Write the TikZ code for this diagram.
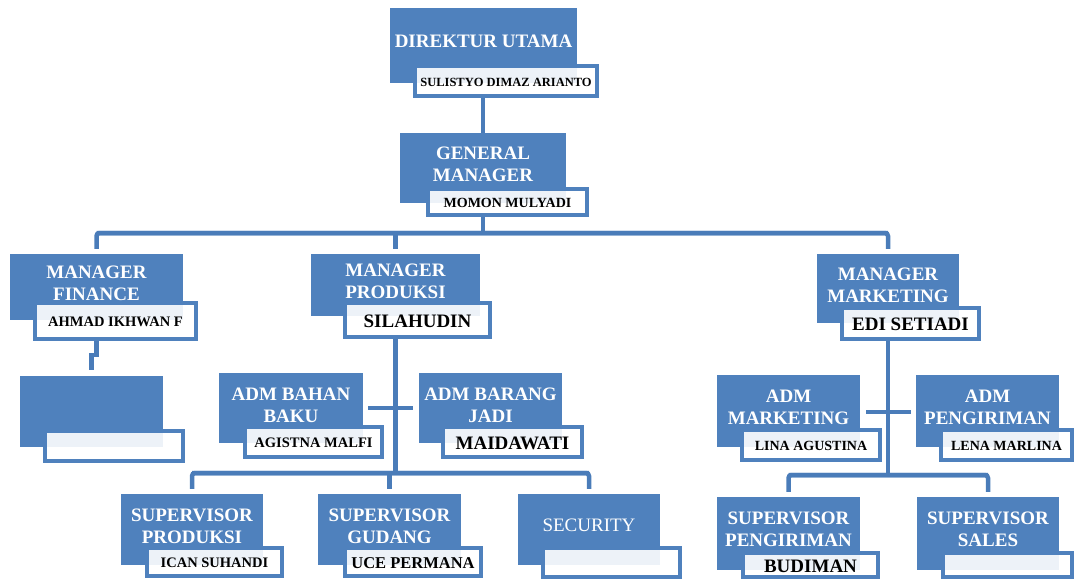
\documentclass[tikz,border=0pt]{standalone}
\usepackage{fontspec}
\setmainfont{Liberation Serif}
\usetikzlibrary{fit,calc,backgrounds}
\definecolor{boxblue}{RGB}{79,129,189}
\definecolor{lineblue}{RGB}{74,124,185}
\tikzset{
  bluebox/.style={fill=boxblue, draw=none, inner sep=0pt},
  titletext/.style={text=white, align=center, inner sep=0pt, font=\bfseries\fontsize{19}{22}\selectfont},
  namebox/.style={draw=boxblue, line width=3.5pt, fill=white, fill opacity=0.9, inner sep=0pt},
  nametext/.style={text=black, inner sep=0pt},
  conn/.style={draw=lineblue, line width=4.5pt},
  drop/.style={conn, shorten >=5pt}
}
\newcommand\orgbox[5]{%
  \node[bluebox, fit={#2 #3}] (#1) {};
  \node[titletext] (#1-t) at (#1.center |- 0,#4) {#5};}
\newcommand\orgname[5]{%
  \node[namebox, fit={#2 #3}] (#1) {};
  \node[nametext, font=\bfseries\fontsize{#4}{#4}\selectfont] (#1-n) at ([yshift=-1pt]#1.center) {#5};}
\begin{document}
\begin{tikzpicture}[x=1pt,y=-1pt]
\useasboundingbox (0,0) rectangle (1075,578);
% blue boxes
\orgbox{du}{(390,8)}{(577,83)}{41}{DIREKTUR UTAMA}
\orgbox{gm}{(400,133)}{(566,203)}{164}{GENERAL\\MANAGER}
\orgbox{mf}{(10,254)}{(183,320)}{283}{MANAGER\\FINANCE}
\node[bluebox, fit={(20,376) (163,447)}] (bf) {};
\orgbox{mp}{(311,254)}{(480,316)}{281}{MANAGER\\PRODUKSI}
\orgbox{abb}{(219,373)}{(363,443)}{405}{ADM BAHAN\\BAKU}
\orgbox{abj}{(419,373)}{(562,443)}{405}{ADM BARANG\\JADI}
\orgbox{sp}{(121,494)}{(263,565)}{526}{SUPERVISOR\\PRODUKSI}
\orgbox{sg}{(318,494)}{(461,565)}{526}{SUPERVISOR\\GUDANG}
\node[bluebox, fit={(518,494) (660,565)}] (sec) {};
\node[titletext, font=\fontsize{19}{22}\selectfont] (sec-t) at (sec.center |- 0,525) {SECURITY};
\orgbox{mm}{(817,254)}{(959,323)}{285}{MANAGER\\MARKETING}
\orgbox{am}{(717,375)}{(860,447)}{407}{ADM\\MARKETING}
\orgbox{ap}{(916,375)}{(1059,447)}{407}{ADM\\PENGIRIMAN}
\orgbox{spg}{(717,497)}{(860,570)}{529}{SUPERVISOR\\PENGIRIMAN}
\orgbox{ss}{(917,497)}{(1059,570)}{529}{SUPERVISOR\\SALES}
% name labels
\orgname{du-l}{(415,66)}{(597,96)}{12.5}{SULISTYO DIMAZ ARIANTO}
\orgname{gm-l}{(428,189)}{(587,215)}{14}{MOMON MULYADI}
\orgname{mf-l}{(35,303)}{(196,339)}{14.5}{AHMAD IKHWAN F}
\orgname{bf-l}{(45,431)}{(183,461)}{14}{}
\orgname{mp-l}{(345,303)}{(490,337)}{19}{SILAHUDIN}
\orgname{abb-l}{(245,427)}{(382,457)}{14.5}{AGISTNA MALFI}
\orgname{abj-l}{(443,427)}{(582,457)}{19}{MAIDAWATI}
\orgname{sp-l}{(147,548)}{(282,576)}{14.5}{ICAN SUHANDI}
\orgname{sg-l}{(345,548)}{(481,576)}{16.5}{UCE PERMANA}
\orgname{sec-l}{(543,548)}{(680,577)}{14}{}
\orgname{mm-l}{(842,308)}{(979,339)}{19}{EDI SETIADI}
\orgname{am-l}{(742,430)}{(880,460)}{14}{LINA AGUSTINA}
\orgname{ap-l}{(941,430)}{(1072,460)}{14}{LENA MARLINA}
\orgname{spg-l}{(743,553)}{(878,577)}{19}{BUDIMAN}
\orgname{ss-l}{(943,553)}{(1072,577)}{14}{}
% connectors
\coordinate (bus1) at (0,233);
\coordinate (bus2) at (0,473);
\coordinate (bus3) at (0,475);
\coordinate (cr1) at (0,408);
\coordinate (cr2) at (0,412);
\begin{scope}[on background layer]
\draw[conn] (gm.north |- du-l.south) -- (gm.north);
\draw[conn] (gm.north |- gm-l.south) -- (gm.north |- bus1);
\draw[drop, rounded corners=3pt] (mf.north |- bus1) -- (mm.north |- bus1) -- (mm.north);
\draw[drop, rounded corners=3pt] (mm.north |- bus1) -- (mf.north |- bus1) -- (mf.north);
\draw[drop] (mp.north |- bus1) -- (mp.north);
% finance
\draw[conn] (mf.north |- mf-l.south) -- ++(0,14) -| ($(bf.north)+(0,-6)$);
% produksi
\draw[conn] (mp.north |- mp-l.south) -- (mp.north |- bus2);
\draw[conn, shorten <=5pt, shorten >=6pt] (abb.east |- cr1) -- (abj.west |- cr1);
\draw[drop, rounded corners=3pt] (sp.north |- bus2) -- (sec.north |- bus2) -- (sec.north);
\draw[drop, rounded corners=3pt] (sec.north |- bus2) -- (sp.north |- bus2) -- (sp.north);
\draw[drop] (sg.north |- bus2) -- (sg.north);
% marketing
\draw[conn] (mm.north |- mm-l.south) -- (mm.north |- bus3);
\draw[conn, shorten <=6pt, shorten >=5pt] (am.east |- cr2) -- (ap.west |- cr2);
\draw[drop, rounded corners=3pt] (spg.north |- bus3) -- (ss.north |- bus3) -- (ss.north);
\draw[drop, rounded corners=3pt] (ss.north |- bus3) -- (spg.north |- bus3) -- (spg.north);
\end{scope}
\end{tikzpicture}
\end{document}
